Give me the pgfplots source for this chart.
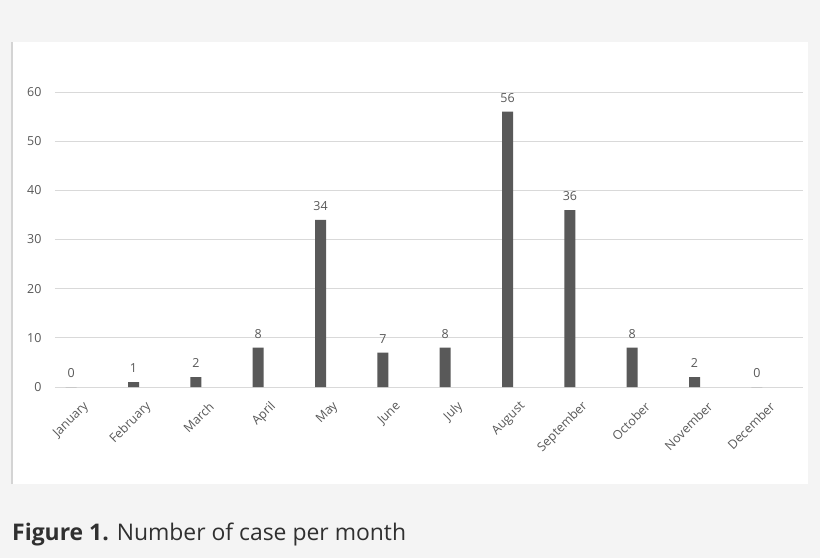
\documentclass[border=0pt]{standalone}
\usepackage{fontspec}
\setmainfont{Open Sans}
\usepackage{pgfplots}
\pgfplotsset{compat=1.18}
\definecolor{bargray}{HTML}{595959}
\definecolor{gridgray}{HTML}{D9D9D9}
\definecolor{bggray}{HTML}{F4F4F4}
\definecolor{edgegray}{HTML}{D4D4D4}
\definecolor{captext}{HTML}{303030}

\begin{document}
\begin{tikzpicture}
% page background, white chart panel and its left edge
\fill[bggray] (-55bp,-171bp) rectangle (765bp,387bp);
\fill[white] (-43bp,-97bp) rectangle (753bp,345bp);
\draw[edgegray, line width=1.5bp] (-43bp,-97bp) -- (-43bp,345bp);
\useasboundingbox (-55bp,-171bp) rectangle (765bp,387bp);

\begin{axis}[
    scale only axis,
    width=748bp, height=295bp,
    xmin=-0.26, xmax=11.74,
    ymin=0, ymax=60,
    ybar, bar width=11bp,
    axis line style={draw=none},
    major tick length=0,
    ymajorgrids,
    grid style={gridgray, line width=1bp},
    ytick={0,10,...,60},
    xtick={0,...,11},
    xticklabels={January,February,March,April,May,June,July,August,September,October,November,December},
    /pgf/number format/assume math mode=true,
    yticklabel style={font=\fontsize{12.5}{14}\selectfont, text=bargray, xshift=-10bp},
    xticklabel style={font=\fontsize{12.5}{14}\selectfont, text=bargray, anchor=east, xshift=18bp, yshift=-15bp, rotate=45},
    nodes near coords,
    nodes near coords style={font=\fontsize{12.5}{14}\selectfont, text=bargray, yshift=6bp},
    clip=false,
]
\addplot[fill=bargray, draw=none] coordinates {
    (0,0) (1,1) (2,2) (3,8) (4,34) (5,7)
    (6,8) (7,56) (8,36) (9,8) (10,2) (11,0)
};
\end{axis}

\node[anchor=base west, inner sep=0, text=captext, font=\fontsize{23}{27}\selectfont]
    at (-43bp,-153bp) {\textbf{Figure 1.} Number of case per month};
\end{tikzpicture}
\end{document}
